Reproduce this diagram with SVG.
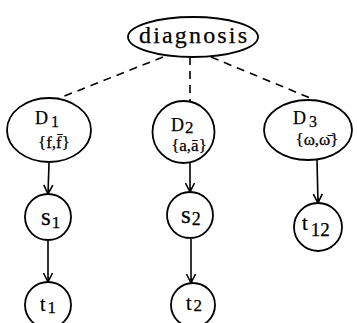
<svg xmlns="http://www.w3.org/2000/svg" width="357" height="323" viewBox="0 0 357 323">
  <style>
    .node { fill: #fff; stroke: #000; stroke-width: 1.8; }
    .lbl { fill: #000; stroke: #000; stroke-width: 0.25; font-family: "Liberation Serif", "Times New Roman", serif; }
    .edge { stroke: #000; stroke-width: 1.6; fill: none; }
    .dash { stroke-dasharray: 8 6; }
  </style>
  <defs>
    <marker id="arrow" markerWidth="12" markerHeight="14" refX="10" refY="6" orient="auto" markerUnits="userSpaceOnUse">
      <path d="M1,1.5 L10,6 L1,10.5" fill="none" stroke="#000" stroke-width="1.6"/>
      <path d="M5,6 L10,6 L6,4 Z" fill="#000"/>
    </marker>
  </defs>

  <!-- connectors -->
  <g id="edges">
    <line class="edge dash" x1="163" y1="57" x2="57" y2="99"/>
    <line class="edge dash" x1="190" y1="57" x2="190" y2="101"/>
    <line class="edge dash" x1="211" y1="57" x2="315" y2="100"/>
    <line class="edge" x1="49" y1="163" x2="48" y2="194" marker-end="url(#arrow)"/>
    <line class="edge" x1="190" y1="163" x2="190" y2="192" marker-end="url(#arrow)"/>
    <line class="edge" x1="317" y1="160" x2="318" y2="203" marker-end="url(#arrow)"/>
    <line class="edge" x1="48" y1="240" x2="48" y2="282" marker-end="url(#arrow)"/>
    <line class="edge" x1="191" y1="239" x2="191" y2="283" marker-end="url(#arrow)"/>
  </g>

  <g id="diagnosis">
    <ellipse class="node" cx="193" cy="37" rx="65" ry="20"/>
    <text class="lbl" x="193" y="43" font-size="24" text-anchor="middle" textLength="108" lengthAdjust="spacing">diagnosis</text>
  </g>

  <g id="D1">
    <ellipse class="node" cx="49" cy="130" rx="42" ry="32"/>
    <text class="lbl" x="35" y="124" font-size="18">D<tspan dx="3" dy="3" font-size="16">1</tspan></text>
    <text class="lbl" x="54" y="148" font-size="17" text-anchor="middle">{f,f̄}</text>
  </g>

  <g id="D2">
    <ellipse class="node" cx="183.5" cy="132" rx="31" ry="31"/>
    <text class="lbl" x="171" y="131" font-size="18">D<tspan dx="1" dy="2" font-size="17">2</tspan></text>
    <text class="lbl" x="189" y="151" font-size="17" text-anchor="middle">{a,ā}</text>
  </g>

  <g id="D3">
    <ellipse class="node" cx="308" cy="130" rx="44" ry="30"/>
    <text class="lbl" x="293" y="124" font-size="18">D<tspan dx="3" dy="3" font-size="16">3</tspan></text>
    <text class="lbl" x="317" y="145" font-size="17" text-anchor="middle">{ω,ω̄}</text>
  </g>

  <g id="s1">
    <circle class="node" cx="48" cy="217" r="23"/>
    <text class="lbl" x="41" y="225" font-size="25">s<tspan dx="1" dy="3" font-size="17">1</tspan></text>
  </g>

  <g id="s2">
    <circle class="node" cx="190" cy="215" r="23"/>
    <text class="lbl" x="181" y="223" font-size="25">s<tspan dx="1" dy="2" font-size="18">2</tspan></text>
  </g>

  <g id="t12">
    <circle class="node" cx="318" cy="227" r="24"/>
    <text class="lbl" x="302" y="230" font-size="21">t<tspan dx="3" dy="6" font-size="19">12</tspan></text>
  </g>

  <g id="t1">
    <circle class="node" cx="48" cy="305" r="23"/>
    <text class="lbl" x="40" y="311" font-size="20">t<tspan dx="2" dy="2" font-size="17">1</tspan></text>
  </g>

  <g id="t2">
    <circle class="node" cx="193" cy="305" r="22"/>
    <text class="lbl" x="186" y="310" font-size="20">t<tspan dx="2" dy="1" font-size="17">2</tspan></text>
  </g>
</svg>
